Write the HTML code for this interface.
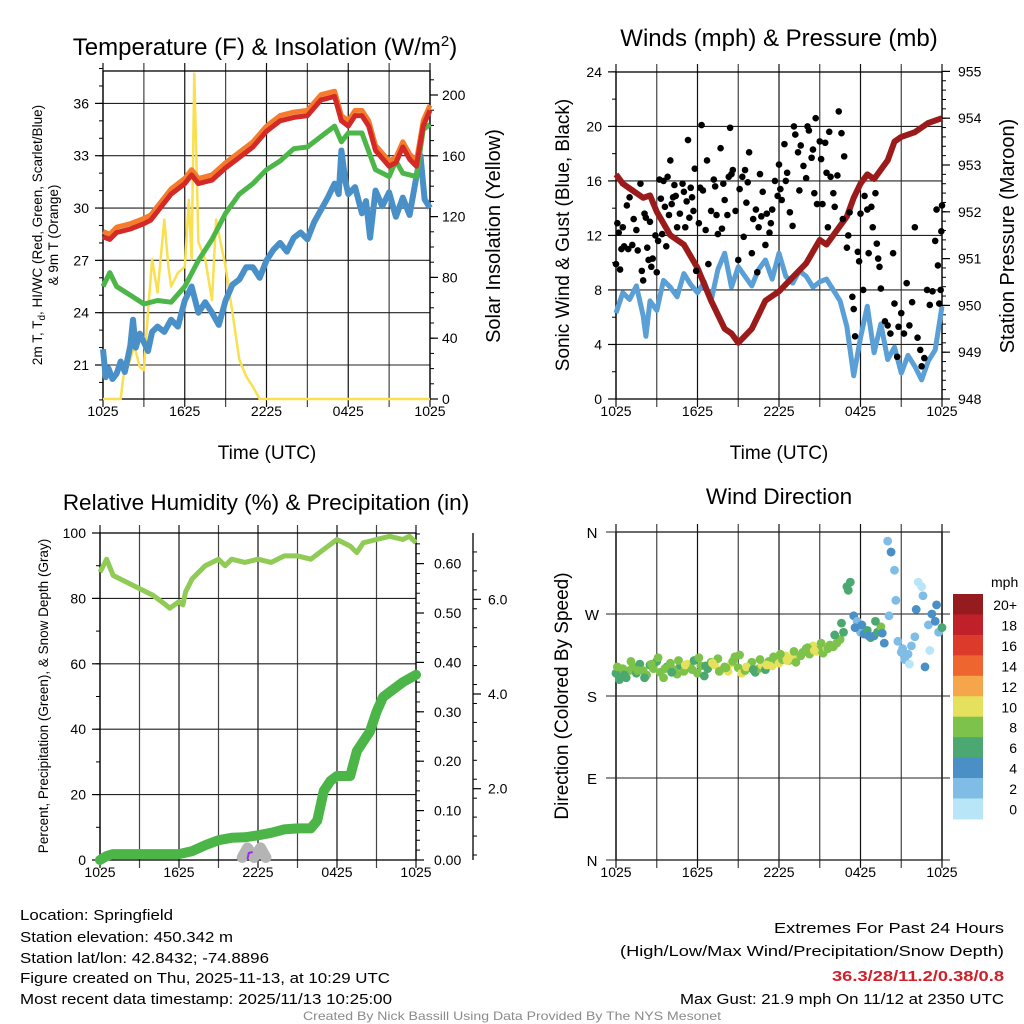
<!DOCTYPE html>
<html><head><meta charset="utf-8"><style>
html,body{margin:0;padding:0;background:#fff;}
svg{display:block;font-family:"Liberation Sans",Arial,sans-serif;}
</style></head><body>
<svg id="chart" width="1024" height="1024" viewBox="0 0 1024 1024" xmlns="http://www.w3.org/2000/svg"></svg>
<script>
// ---------- DATA ----------
const xTickLabels = ["1025","1625","2225","0425","1025"];
const tempTicks = [21,24,27,30,33,36];
const solarTicks = [0,40,80,120,160,200];
const windTicks = [0,4,8,12,16,20,24];
const presTicks = [948,949,950,951,952,953,954,955];
const rhTicks = [0,20,40,60,80,100];
const precipTicks = [0.00,0.10,0.20,0.30,0.40,0.50,0.60];
const snowTicks = [2.0,4.0,6.0];
const dirTicks = ["N","E","S","W","N"];
const cbLabels = ["20+","18","16","14","12","10","8","6","4","2","0"];
const cbColors = ["#951b1e","#c0202a","#dc3a2b","#ef6530","#f5a64a","#e6e15c","#7dc24a","#4aa870","#4a8fc6","#80bde6","#b9e5f8"];

const redHours = [0,0.5,1,2,3,3.5,4,5,6,6.5,7,8,9,10,11,12,13,14,15,16,17,17.5,18,18.5,19,19.5,20,21,21.5,22,22.5,23,23.5,24];
const redTemp = [28.35,28.2,28.6,28.8,29.1,29.3,29.8,30.8,31.4,31.9,31.4,31.6,32.3,32.9,33.5,34.4,35.0,35.2,35.3,36.2,36.4,35.0,34.7,35.3,35.3,34.7,33.3,32.4,32.6,33.5,32.8,32.4,34.7,35.6];
const orangeTemp = [28.65,28.5,28.9,29.1,29.4,29.6,30.1,31.1,31.7,32.2,31.7,31.9,32.6,33.2,33.8,34.7,35.3,35.5,35.6,36.5,36.7,35.3,35.0,35.6,35.6,35.0,33.6,32.7,32.9,33.8,33.1,32.7,35.0,35.9];
const greenHours = [0,0.5,1,2,3,4,5,6,7,8,9,10,11,12,13,14,15,16,17,17.5,18,19,20,21,21.5,22,23,23.5,24];
const dewTemp = [25.5,26.3,25.5,25.0,24.5,24.7,24.6,25.5,27.0,28.2,29.7,30.8,31.4,32.2,32.7,33.4,33.5,34.1,34.7,33.8,34.3,34.3,32.2,31.8,32.7,32.0,31.8,34.5,34.8];
const blueHours = [0,0.2,0.4,0.7,1,1.3,1.6,2,2.2,2.4,2.7,3,3.3,3.6,4,4.5,5,5.5,6,6.5,7,7.5,8,8.5,9,9.5,10,10.5,11,11.5,12,12.5,13,13.5,14,14.5,15,15.5,16,16.5,17,17.3,17.5,17.8,18,18.5,19,19.3,19.6,20,20.5,21,21.5,22,22.5,23,23.3,23.6,24];
const windChill = [21.9,20.3,20.8,20.2,20.5,21.2,20.6,22.1,23.6,22.0,22.8,22.3,21.8,22.9,23.2,22.9,23.6,23.2,24.7,25.5,24.0,24.6,24.0,23.3,24.7,25.6,25.9,26.6,26.6,26.0,27.0,27.6,28.0,27.5,28.3,28.6,28.2,29.2,29.9,30.6,31.4,30.8,33.3,31.5,30.8,31.2,29.7,30.4,28.3,31.0,30.1,30.9,29.5,30.6,29.6,31.8,33.0,30.5,30.0];
const solarHours = [0,1.3,1.5,2,2.3,2.7,3,3.3,3.6,4,4.5,4.8,5,5.5,6,6.3,6.5,6.7,7,7.5,8,8.3,8.7,9,9.5,10,10.5,11,11.5,24];
const solarVals = [0,0,15,26,35,21,19,57,92,70,118,87,74,83,87,131,92,214,103,92,65,118,100,87,57,26,15,8,0,0];

const windHours = [0,0.5,1,1.5,2,2.2,2.5,3,3.5,4,4.5,5,5.5,6,6.5,7,7.5,8,8.5,9,9.5,10,10.5,11,11.5,12,12.5,13,13.5,14,14.5,15,15.5,16,16.5,17,17.5,18,18.5,19,19.5,20,20.5,21,21.5,22,22.5,23,23.5,24];
const windVals = [6.3,7.8,7.3,8.3,6.1,4.6,7.2,6.5,8.7,8.2,7.5,9.2,8.4,7.8,8.6,7.2,9.5,10.7,8.2,9.7,9.0,8.3,9.5,10.2,8.8,10.7,9.0,8.5,9.4,9.0,8.2,8.6,8.8,8.0,7.2,5.3,1.7,4.5,6.8,3.4,5.5,2.9,3.8,1.9,3.2,2.4,1.4,2.8,3.6,6.8];
const presHours = [0,0.5,1,2,2.5,3,4,5,6,7,8,8.5,9,10,10.5,11,12,13,14,15,15.5,16,17,17.5,18,18.5,19,20,20.5,21,22,23,24];
const presVals = [952.8,952.6,952.5,952.3,952.35,952.0,951.5,951.3,950.8,950.1,949.5,949.4,949.2,949.5,949.8,950.1,950.3,950.6,950.9,951.4,951.3,951.5,951.9,952.3,952.6,952.8,952.7,953.1,953.5,953.6,953.7,953.9,954.0];
const gustHours = [0,0.1,0.2,0.3,0.4,0.5,0.6,0.8,0.9,1.0,1.2,1.3,1.5,1.6,1.8,1.9,2.0,2.1,2.2,2.3,2.4,2.5,2.6,2.7,2.9,3.0,3.1,3.2,3.3,3.4,3.5,3.6,3.7,3.8,3.9,4.0,4.1,4.2,4.3,4.4,4.5,4.7,4.9,5.0,5.1,5.2,5.3,5.4,5.5,5.6,5.7,5.8,5.9,6.1,6.2,6.3,6.4,6.6,6.7,6.8,7.0,7.2,7.3,7.4,7.5,7.7,7.8,7.9,8.0,8.2,8.3,8.4,8.5,8.6,8.8,9.0,9.1,9.3,9.4,9.5,9.6,9.7,9.8,10.0,10.1,10.3,10.4,10.5,10.6,10.7,10.8,11.0,11.1,11.3,11.4,11.5,11.7,11.9,12.0,12.1,12.2,12.4,12.5,12.6,12.8,13.0,13.1,13.2,13.4,13.5,13.6,13.8,14.0,14.1,14.2,14.4,14.5,14.6,14.7,14.8,15.0,15.1,15.2,15.4,15.5,15.6,15.7,15.8,16.0,16.1,16.3,16.4,16.6,16.7,16.8,17.0,17.1,17.2,17.4,17.5,17.6,17.8,17.9,18.0,18.2,18.3,18.5,18.6,18.8,18.9,19.1,19.2,19.3,19.4,19.5,19.8,20.0,20.2,20.4,20.5,20.7,20.8,21.0,21.2,21.4,21.6,21.8,22.0,22.2,22.4,22.5,22.7,22.9,23.1,23.3,23.5,23.6,23.7,23.8,23.9,24.0,23.95];
const gustVals = [9.9,12.9,12.2,9.5,11.0,12.6,11.2,14.2,11.0,14.8,11.3,13.2,12.4,10.9,15.8,9.4,8.7,13.6,13.3,11.1,10.2,13.0,9.7,10.3,12.0,9.3,11.6,16.1,14.7,12.1,16.0,14.1,11.2,16.3,13.5,17.5,14.3,14.8,15.7,14.9,12.6,13.6,15.8,15.2,12.6,14.5,19.0,13.3,15.5,14.8,13.8,16.9,9.4,12.9,15.5,20.1,15.3,12.4,17.5,9.9,13.8,16.1,15.6,13.5,12.1,18.4,12.5,15.8,14.6,13.5,16.3,19.9,16.5,16.8,13.8,10.2,15.4,16.3,11.9,16.8,14.4,15.9,18.1,10.7,13.2,13.9,9.3,12.6,16.5,13.4,15.2,11.3,13.6,12.2,12.9,13.9,16.0,14.9,17.2,15.4,14.6,18.7,16.0,16.6,13.7,12.7,20.0,19.4,18.1,15.3,18.6,17.1,16.2,20.0,19.7,17.7,18.3,15.1,20.6,14.3,18.9,17.6,14.3,18.8,16.6,12.6,19.6,16.3,15.1,14.1,16.4,21.1,19.5,13.2,17.8,11.1,12.0,13.7,7.5,6.6,4.6,10.8,10.1,13.6,8.0,14.9,13.9,10.7,14.1,12.6,15.1,11.4,10.3,9.7,8.1,5.7,5.4,4.8,10.7,7.0,3.1,5.3,6.3,4.8,8.5,5.4,7.1,12.6,4.5,3.6,2.4,3.0,8.0,6.9,7.9,11.6,13.9,9.8,7.0,8.0,14.2,12.3];

const rhHours = [0,0.5,1,2,3,4,5,5.3,6,6.3,6.5,7,7.5,8,9,9.5,10,11,12,13,14,15,16,17,18,19,19.5,20,21,22,23,23.5,24];
const rhVals = [88,92,87,85,83,81,78,77,79,78,82,86,88,90,92,90,92,91,92,91,93,93,92,95,98,96,94,97,98,99,98,99,97];
const precipHours = [0,0.5,1,6,7,8,9,10,11,12,13,14,15,16,16.5,17,17.5,18,19,19.5,20,20.5,21,21.5,22,23,24];
const precipVals = [0,0.008,0.012,0.012,0.018,0.03,0.04,0.045,0.046,0.05,0.055,0.062,0.064,0.064,0.08,0.14,0.16,0.17,0.17,0.22,0.24,0.26,0.30,0.33,0.34,0.36,0.375];
const snowHours = [10.8,11.2,11.7,12.2,12.6];
const snowVals = [0.55,0.75,0.55,0.75,0.55];

const wdHours = [0,0.25,0.5,0.75,1,1.25,1.5,1.75, 2,2.25,2.5,2.75,3,3.25,3.5,3.75, 4,4.25,4.5,4.75,5,5.25,5.5,5.75, 6,6.25,6.5,6.75,7,7.25,7.5,7.75, 8,8.25,8.5,8.75,9,9.25,9.5,9.75, 10,10.25,10.5,10.75,11,11.25,11.5,11.75, 12,12.25,12.5,12.75,13,13.25,13.5,13.75, 14,14.25,14.5,14.75,15,15.25,15.5,15.75, 16,16.25,16.5,16.75,17,17.25,17.5,17.75, 18,18.25,18.5,18.75,19,19.25,19.5,19.75, 20,20.25,20.5,20.75,21,21.25,21.5,21.75, 22,22.25,22.5,22.75,23,23.25,23.5,23.75, 24];
const wdDeg = [205,198,210,200,208,212,205,215, 208,203,214,210,218,206,200,212, 216,209,204,213,207,215,211,219, 205,213,202,210,217,214,221,209, 212,207,216,223,211,205,208,212, 217,206,210,214,209,218,213,220, 216,220,224,219,222,217,225,228, 232,226,235,229,231,227,233,236, 234,238,242,250,300,305,268,262, 250,248,252,244,246,250,256,238, 350,338,318,240,228,220,226,235, 245,305,300,212,258,270,262,250, 255];
const wdSpd = [7,6,8,7,8,8,7,6, 8,8,7,8,6,8,8,7, 8,8,9,6,8,10,8,7, 8,8,7,6,8,10,8,10, 9,10,10,8,9,10,8,9, 8,7,8,10,6,9,10,8, 10,9,10,8,10,9,10,8, 8,9,10,10,8,8,10,8, 8,8,8,7,6,6,4,2, 3,5,6,6,4,6,8,5, 2,4,3,2,3,2,2,3, 2,1,1,4,3,4,5,2, 6];
const wd2Hours = [0.1,0.6,1.1,1.6,2.1,2.6,3.1,3.6,4.1,4.6,5.1,5.6,6.1,6.6,7.1,7.6,8.1,8.6,9.1,9.6,10.1,10.6,11.1,11.6,12.1,12.6,13.1,13.6,14.1,14.6,15.1,15.6,16.1,16.6,17.1,17.6,18.1,18.6,19.1,19.6,20.1,20.6,21.1,21.6,22.1,22.6,23.1,23.6];
const wd2Deg = [212,203,218,208,200,215,222,210,206,219,214,209,222,213,216,207,211,218,225,212,209,220,214,223,226,219,229,224,233,230,238,232,247,260,296,255,258,246,262,249,268,285,232,215,275,290,230,280];
const wd2Spd = [8,7,8,8,6,8,9,8,7,8,10,8,9,7,10,8,9,8,8,10,7,9,10,9,8,10,8,9,8,10,8,8,7,6,6,5,5,4,7,4,2,3,2,1,4,3,0,4];

// ---------- HELPERS ----------
const NS = "http://www.w3.org/2000/svg";
const svg = document.getElementById('chart');
function mk(tag, attrs, parent, txt) {
  const e = document.createElementNS(NS, tag);
  for (const k in attrs) e.setAttribute(k, attrs[k]);
  if (txt !== undefined) e.textContent = txt;
  (parent || svg).appendChild(e);
  return e;
}
function grp(name) {
  const g = mk('g', {});
  
  
  return g;
}
function linePath(hours, vals, xf, yf) {
  let d = '';
  const n = Math.min(hours.length, vals.length);
  for (let i = 0; i < n; i++) d += (i ? 'L' : 'M') + xf(hours[i]).toFixed(1) + ',' + yf(vals[i]).toFixed(1);
  return d;
}
function frame(name, x0, x1, y0, y1, hLines) {
  const g = grp(name);
  const xf = h => x0 + h * (x1 - x0) / 24;
  for (let i = 0; i <= 8; i++) {
    const x = xf(i * 3);
    mk('line', {x1: x, x2: x, y1: y0 - 8, y2: y1 + 8, stroke: i % 2 ? '#444' : '#111', 'stroke-width': 1.2}, g);
  }
  hLines.forEach(y => mk('line', {x1: x0, x2: x1, y1: y, y2: y, stroke: '#222', 'stroke-width': 1.1}, g));
  mk('rect', {x: x0, y: y0, width: x1 - x0, height: y1 - y0, fill: 'none', stroke: '#000', 'stroke-width': 1.3}, g);
  xTickLabels.forEach((t, i) => {
    const tx = mk('text', {x: xf(i * 6), y: y1 + 17, 'font-size': 14, 'text-anchor': 'middle'}, g, t);
    
    
  });
  return xf;
}
function leftTicks(g, x, vals, yf, labels, minorVals) {
  minorVals.forEach(v => mk('line', {x1: x - 4, x2: x, y1: yf(v), y2: yf(v), stroke: '#000'}, g));
  vals.forEach((v, i) => {
    mk('line', {x1: x - 8, x2: x, y1: yf(v), y2: yf(v), stroke: '#000', 'stroke-width': 1.2}, g);
    const t = mk('text', {x: x - 14, y: yf(v) + 5, 'font-size': 14, 'text-anchor': 'end'}, g, labels[i]);
    
    
  });
}
function rightTicks(g, x, vals, yf, labels, minorVals, off) {
  minorVals.forEach(v => mk('line', {x1: x, x2: x + 4, y1: yf(v), y2: yf(v), stroke: '#000'}, g));
  vals.forEach((v, i) => {
    mk('line', {x1: x, x2: x + 8, y1: yf(v), y2: yf(v), stroke: '#000', 'stroke-width': 1.2}, g);
    const t = mk('text', {x: x + (off || 14), y: yf(v) + 5, 'font-size': 14, 'text-anchor': 'start'}, g, labels[i]);
    
    
  });
}
function range(a, b, s) { const r = []; for (let v = a; v <= b + 1e-9; v += s) r.push(+v.toFixed(4)); return r; }
function label(txt, x, y, size, rot, name, extra) {
  const t = mk('text', Object.assign({x: x, y: y, 'font-size': size, 'text-anchor': 'middle'}, extra || {}), svg, txt);
  if (rot) t.setAttribute('transform', 'rotate(-90 ' + x + ' ' + y + ')');
  
  
  return t;
}

// ---------- PANEL 1 : Temperature ----------
(function () {
  const x0 = 103, x1 = 430, y0 = 71, y1 = 399;
  const yT = v => 365 - (v - 21) * 17.44;
  const yS = v => 399 - v * 1.52;
  const xf = frame('temperature-panel', x0, x1, y0, y1, tempTicks.map(yT));
  const g = svg.lastChild;
  leftTicks(g, x0, tempTicks, yT, tempTicks.map(String), range(19, 38, 1));
  rightTicks(g, x1, solarTicks, yS, solarTicks.map(String), range(0, 210, 10), 12);
  const s1 = mk('path', {d: linePath(solarHours, solarVals, xf, yS), fill: 'none', stroke: '#f8e04e', 'stroke-width': 2.5, 'stroke-linejoin': 'round'}, g);
  
  
  const s2 = mk('path', {d: linePath(blueHours, windChill, xf, yT), fill: 'none', stroke: '#4a90c8', 'stroke-width': 6, 'stroke-linejoin': 'round'}, g);
  
  
  const s3 = mk('path', {d: linePath(greenHours, dewTemp, xf, yT), fill: 'none', stroke: '#4cb648', 'stroke-width': 5, 'stroke-linejoin': 'round'}, g);
  
  
  const s4 = mk('path', {d: linePath(redHours, orangeTemp, xf, yT), fill: 'none', stroke: '#f47c2c', 'stroke-width': 5, 'stroke-linejoin': 'round'}, g);
  
  
  const s5 = mk('path', {d: linePath(redHours, redTemp, xf, yT), fill: 'none', stroke: '#d42a27', 'stroke-width': 5, 'stroke-linejoin': 'round'}, g);
  
  
})();
(function () {
  const t = label('', 265, 55, 24, false, 'temperature-title');
  t.appendChild(document.createTextNode('Temperature (F) & Insolation (W/m'));
  mk('tspan', {dy: -9, 'font-size': 15}, t, '2');
  mk('tspan', {dy: 9}, t, ')');
})();
label('Time (UTC)', 267, 459, 19, false, 'x-axis-title');
(function () {
  const t = label('', 42, 235, 13.5, true, 'temperature-y-axis-title');
  t.appendChild(document.createTextNode('2m T, T'));
  mk('tspan', {dy: 3, 'font-size': 10}, t, 'd');
  mk('tspan', {dy: -3}, t, ', HI/WC (Red, Green, Scarlet/Blue)');
})();
label('& 9m T (Orange)', 58, 235, 13.5, true, 'temperature-y-axis-title-line2');
label('Solar Insolation (Yellow)', 500, 236, 20, true, 'solar-y-axis-title');

// ---------- PANEL 2 : Winds ----------
(function () {
  const x0 = 616, x1 = 942, y0 = 72, y1 = 399;
  const yW = v => 399 - v * 13.63;
  const yP = p => 399 - (p - 948) * 46.8;
  const xf = frame('winds-panel', x0, x1, y0, y1, windTicks.slice(1, 6).map(yW));
  const g = svg.lastChild;
  leftTicks(g, x0, windTicks, yW, windTicks.map(String), range(0, 24, 2));
  rightTicks(g, x1, presTicks, yP, presTicks.map(String), range(948, 955, 0.2), 16);
  const s1 = mk('path', {d: linePath(windHours, windVals, xf, yW), fill: 'none', stroke: '#5a9fd6', 'stroke-width': 5, 'stroke-linejoin': 'round'}, g);
  
  
  const s2 = mk('path', {d: linePath(presHours, presVals, xf, yP), fill: 'none', stroke: '#9b1b1b', 'stroke-width': 6, 'stroke-linejoin': 'round'}, g);
  
  
  const n = Math.min(gustHours.length, gustVals.length);
  for (let i = 0; i < n; i++) {
    const c = mk('circle', {cx: xf(gustHours[i]), cy: yW(gustVals[i]), r: 3.3, fill: '#000'}, g);
    
    
  }
})();
label('Winds (mph) & Pressure (mb)', 779, 46, 24, false, 'winds-title');
label('Time (UTC)', 779, 459, 19, false, 'x-axis-title');
label('Sonic Wind & Gust (Blue, Black)', 569, 235, 19, true, 'wind-y-axis-title');
label('Station Pressure (Maroon)', 1014, 236, 20, true, 'pressure-y-axis-title');

// ---------- PANEL 3 : RH & Precip ----------
(function () {
  const x0 = 100, x1 = 416, y0 = 533, y1 = 860;
  const yR = v => 860 - v * 3.27;
  const yP = v => 860 - v * 494;
  const yS = v => 883.4 - v * 47.35;
  const xf = frame('humidity-panel', x0, x1, y0, y1, [20, 40, 60, 80].map(yR));
  const g = svg.lastChild;
  leftTicks(g, x0, rhTicks, yR, rhTicks.map(String), range(0, 100, 10));
  rightTicks(g, x1, precipTicks, yP, precipTicks.map(v => v.toFixed(2)), range(0, 0.66, 0.02), 18);
  mk('line', {x1: 473, x2: 473, y1: 533, y2: 860, stroke: '#000', 'stroke-width': 1.3}, g);
  rightTicks(g, 473, snowTicks, yS, snowTicks.map(v => v.toFixed(1)), range(0.6, 7.2, 0.4), 15);
  const sn = mk('path', {d: linePath(snowHours, snowVals, xf, yS), fill: 'none', stroke: '#b4b4b4', 'stroke-width': 11, 'stroke-linecap': 'round', 'stroke-linejoin': 'round'}, g);
  
  
  mk('path', {d: 'M' + xf(11.2) + ',859L' + xf(11.3) + ',853L' + xf(11.6) + ',852', fill: 'none', stroke: '#9b30e0', 'stroke-width': 2}, g);
  const s1 = mk('path', {d: linePath(rhHours, rhVals, xf, yR), fill: 'none', stroke: '#8fcb55', 'stroke-width': 5, 'stroke-linejoin': 'round'}, g);
  
  
  const s2 = mk('path', {d: linePath(precipHours, precipVals, xf, yP), fill: 'none', stroke: '#4cb548', 'stroke-width': 10, 'stroke-linecap': 'round', 'stroke-linejoin': 'round'}, g);
  
  
})();
label('Relative Humidity (%) & Precipitation (in)', 266, 510, 22.5, false, 'humidity-title');
label('Percent, Precipitation (Green), & Snow Depth (Gray)', 48, 696, 13.5, true, 'humidity-y-axis-title');

// ---------- PANEL 4 : Wind direction ----------
(function () {
  const x0 = 616, x1 = 942, y0 = 532, y1 = 860;
  const yD = d => 860 - d * 328 / 360;
  const xf = frame('wind-direction-panel', x0, x1, y0, y1, []);
  const g = svg.lastChild;
  [0, 90, 180, 270, 360].forEach((d, i) => {
    mk('line', {x1: 606, x2: 950, y1: yD(d), y2: yD(d), stroke: '#222', 'stroke-width': 1.1}, g);
    const t = mk('text', {x: 592, y: yD(d) + 6, 'font-size': 15, 'text-anchor': 'middle'}, g, dirTicks[i]);
    
    
  });
  function dots(hs, ds, ss) {
    const n = Math.min(hs.length, ds.length, ss.length);
    for (let i = 0; i < n; i++) {
      const bin = Math.min(10, Math.floor(ss[i] / 2));
      const c = mk('circle', {cx: xf(hs[i]), cy: yD(ds[i]), r: 4.4, fill: cbColors[10 - bin]}, g);
      
      
    }
  }
  dots(wdHours, wdDeg, wdSpd);
  dots(wd2Hours, wd2Deg, wd2Spd);
  const cb = grp('speed-colorbar');
  cbColors.forEach((col, i) => {
    const r = mk('rect', {x: 953, y: 594 + i * 20.45, width: 30, height: 20.9, fill: col}, cb);
    
    
    const t = mk('text', {x: 1017, y: 594 + i * 20.45 + 16, 'font-size': 14, 'text-anchor': 'end'}, cb, cbLabels[i]);
    
    
  });
  const m = mk('text', {x: 991, y: 587, 'font-size': 14}, cb, 'mph');
  
  
})();
label('Wind Direction', 779, 504, 22.5, false, 'wind-direction-title');
label('Direction (Colored By Speed)', 568, 696, 19, true, 'direction-y-axis-title');

// ---------- FOOTER ----------
const leftLines = [["Location: Springfield",920,153],["Station elevation: 450.342 m",942,213],["Station lat/lon: 42.8432; -74.8896",963,249],["Figure created on Thu, 2025-11-13, at 10:29 UTC",983,370],["Most recent data timestamp: 2025/11/13 10:25:00",1004,372]];
leftLines.forEach(l => {
  const t = mk('text', {x: 20, y: l[1], 'font-size': 15, textLength: l[2], lengthAdjust: 'spacingAndGlyphs'}, svg, l[0]);
  
  
});
const rightLines = [["Extremes For Past 24 Hours",933,230,'#000','normal'],["(High/Low/Max Wind/Precipitation/Snow Depth)",956,384,'#000','normal'],["36.3/28/11.2/0.38/0.8",981,172,'#d0202a','bold'],["Max Gust: 21.9 mph On 11/12 at 2350 UTC",1004,324,'#000','normal']];
rightLines.forEach(l => {
  const t = mk('text', {x: 1004, y: l[1], 'font-size': 15, 'text-anchor': 'end', fill: l[3], 'font-weight': l[4], textLength: l[2], lengthAdjust: 'spacingAndGlyphs'}, svg, l[0]);
  
  
});
const cr = mk('text', {x: 512, y: 1020, 'font-size': 12, 'text-anchor': 'middle', fill: '#8a8a8a', textLength: 418, lengthAdjust: 'spacingAndGlyphs'}, svg, 'Created By Nick Bassill Using Data Provided By The NYS Mesonet');


</script>
</body></html>
